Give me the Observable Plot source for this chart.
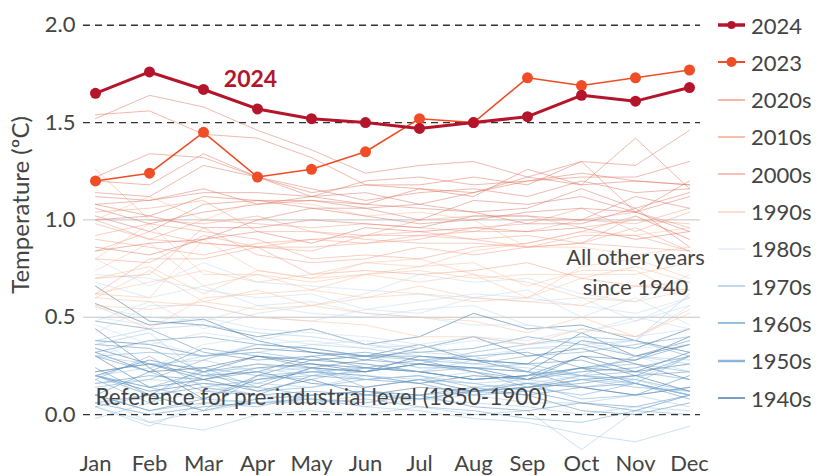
<!DOCTYPE html>
<html>
<head>
<meta charset="utf-8">
<script src="https://cdn.jsdelivr.net/npm/d3@7"></script>
<script src="https://cdn.jsdelivr.net/npm/@observablehq/plot@0.6"></script>
<style>
  html, body { margin: 0; padding: 0; background: #fff; }
  #wrap { position: relative; width: 818px; height: 476px; font-family: Lato, "Noto Sans", sans-serif; }
  #legend { position: absolute; left: 718px; top: 0; }
  .item { position: absolute; left: 0; display: flex; align-items: center; height: 24px; white-space: nowrap; }
  .item svg { display: block; }
  .item span { font-size: 22px; color: #444; margin-left: 5px; font-weight: 400; }
</style>
</head>
<body>
<div id="wrap"><div id="legend"></div></div>
<script>
const months = ["Jan","Feb","Mar","Apr","May","Jun","Jul","Aug","Sep","Oct","Nov","Dec"];

const y2024 = [1.65,1.76,1.67,1.57,1.52,1.50,1.47,1.50,1.53,1.64,1.61,1.68];
const y2023 = [1.20,1.24,1.45,1.22,1.26,1.35,1.52,1.50,1.73,1.69,1.73,1.77];

const d1940s = [
  [0.20,0.28,0.22,0.30,0.26,0.24,0.22,0.18,0.20,0.30,0.28,0.40],
  [0.38,0.36,0.30,0.34,0.32,0.30,0.36,0.28,0.26,0.42,0.30,0.36],
  [0.32,0.22,0.24,0.30,0.28,0.26,0.22,0.18,0.20,0.24,0.22,0.32],
  [0.22,0.26,0.18,0.24,0.26,0.22,0.30,0.28,0.22,0.38,0.34,0.44],
  [0.66,0.48,0.46,0.40,0.44,0.36,0.40,0.52,0.44,0.46,0.38,0.32],
  [0.57,0.46,0.49,0.38,0.32,0.28,0.34,0.40,0.30,0.34,0.26,0.18],
  [0.34,0.26,0.20,0.22,0.16,0.14,0.18,0.12,0.14,0.18,0.20,0.12],
  [0.20,0.12,0.16,0.14,0.24,0.22,0.26,0.24,0.18,0.30,0.22,0.26],
  [0.44,0.24,0.08,0.18,0.22,0.20,0.16,0.20,0.18,0.24,0.16,0.10],
  [0.30,0.14,0.18,0.12,0.18,0.10,0.14,0.12,0.16,0.14,0.10,0.14]
];
const d1950s = [
  [0.06,0.10,0.14,0.10,0.20,0.18,0.16,0.10,0.12,0.06,0.02,0.10],
  [0.10,0.02,0.08,0.20,0.28,0.30,0.32,0.34,0.40,0.36,0.30,0.38],
  [0.36,0.34,0.22,0.26,0.24,0.22,0.26,0.24,0.22,0.14,0.10,0.20],
  [0.32,0.38,0.40,0.36,0.34,0.30,0.30,0.28,0.26,0.28,0.20,0.30],
  [0.10,0.22,0.12,0.10,0.12,0.10,0.08,0.12,0.10,0.14,0.16,0.08],
  [0.24,0.10,0.02,0.08,0.10,0.12,0.10,0.14,0.10,0.02,0.00,0.06],
  [0.06,0.00,0.04,0.06,0.08,0.06,0.10,0.04,0.02,0.06,0.04,0.10],
  [0.16,0.20,0.18,0.22,0.30,0.32,0.28,0.30,0.32,0.24,0.28,0.36],
  [0.48,0.44,0.32,0.28,0.30,0.24,0.28,0.22,0.18,0.22,0.24,0.30],
  [0.30,0.22,0.34,0.30,0.24,0.28,0.26,0.22,0.14,0.16,0.20,0.22]
];
const d1960s = [
  [0.20,0.10,0.02,0.20,0.22,0.24,0.22,0.24,0.26,0.20,0.16,0.30],
  [0.30,0.32,0.30,0.32,0.28,0.30,0.24,0.24,0.22,0.20,0.22,0.18],
  [0.22,0.26,0.24,0.20,0.18,0.24,0.22,0.18,0.20,0.24,0.26,0.22],
  [0.18,0.30,0.14,0.18,0.20,0.22,0.26,0.32,0.36,0.40,0.38,0.30],
  [0.20,0.14,0.08,0.06,0.06,0.08,0.04,0.02,-0.02,-0.04,0.02,0.00],
  [0.10,0.02,0.06,0.04,0.10,0.12,0.08,0.12,0.14,0.10,0.16,0.10],
  [0.20,0.14,0.22,0.12,0.14,0.18,0.20,0.14,0.16,0.08,0.10,0.14],
  [0.18,0.06,0.20,0.16,0.24,0.14,0.18,0.16,0.12,0.18,0.14,0.12],
  [0.04,0.10,0.24,0.14,0.10,0.12,0.10,0.12,0.14,0.20,0.18,0.12],
  [0.14,0.18,0.28,0.36,0.34,0.30,0.28,0.26,0.30,0.32,0.36,0.40]
];
const d1970s = [
  [0.36,0.42,0.20,0.26,0.22,0.18,0.20,0.16,0.18,0.14,0.18,0.10],
  [0.10,-0.04,0.02,0.06,0.08,0.04,0.08,0.10,0.06,0.06,0.10,0.04],
  [-0.02,0.06,0.12,0.16,0.14,0.20,0.18,0.22,0.16,0.20,0.18,0.30],
  [0.38,0.44,0.46,0.42,0.40,0.36,0.32,0.30,0.22,0.18,0.16,0.10],
  [0.04,-0.06,0.06,0.08,0.06,0.10,0.08,0.06,0.04,0.00,0.04,0.02],
  [0.16,0.18,0.16,0.10,0.08,0.04,0.02,-0.02,-0.04,-0.10,-0.14,-0.06],
  [0.04,-0.04,-0.08,0.00,0.02,0.00,0.04,0.00,0.02,-0.18,0.02,0.10],
  [0.20,0.24,0.30,0.32,0.36,0.34,0.30,0.26,0.24,0.20,0.30,0.28],
  [0.30,0.26,0.28,0.22,0.24,0.18,0.20,0.10,0.20,0.22,0.30,0.26],
  [0.20,0.10,0.22,0.24,0.20,0.26,0.22,0.28,0.34,0.36,0.38,0.62]
];
const d1980s = [
  [0.55,0.50,0.48,0.56,0.58,0.52,0.50,0.46,0.46,0.42,0.50,0.44],
  [0.68,0.60,0.66,0.56,0.52,0.50,0.54,0.56,0.46,0.42,0.48,0.60],
  [0.30,0.38,0.30,0.36,0.38,0.34,0.36,0.30,0.34,0.34,0.38,0.56],
  [0.72,0.70,0.64,0.60,0.62,0.54,0.52,0.60,0.64,0.50,0.60,0.46],
  [0.46,0.36,0.42,0.38,0.44,0.36,0.34,0.38,0.36,0.38,0.30,0.22],
  [0.38,0.24,0.36,0.40,0.36,0.38,0.34,0.40,0.36,0.40,0.34,0.36],
  [0.50,0.46,0.50,0.44,0.42,0.40,0.36,0.40,0.38,0.44,0.40,0.44],
  [0.48,0.58,0.44,0.52,0.56,0.62,0.72,0.68,0.70,0.62,0.58,0.72],
  [0.80,0.66,0.78,0.68,0.66,0.64,0.62,0.60,0.58,0.60,0.48,0.56],
  [0.42,0.56,0.56,0.50,0.48,0.54,0.58,0.62,0.60,0.56,0.52,0.60]
];
const d1990s = [
  [0.62,0.60,0.90,0.74,0.70,0.72,0.68,0.72,0.60,0.76,0.80,0.70],
  [0.70,0.76,0.62,0.74,0.70,0.78,0.80,0.72,0.68,0.60,0.58,0.64],
  [0.60,0.58,0.56,0.50,0.48,0.46,0.40,0.40,0.36,0.44,0.40,0.52],
  [0.56,0.54,0.58,0.54,0.56,0.52,0.50,0.48,0.42,0.50,0.40,0.54],
  [0.56,0.44,0.60,0.62,0.64,0.60,0.62,0.58,0.60,0.70,0.76,0.68],
  [0.80,0.98,0.72,0.72,0.64,0.72,0.76,0.78,0.66,0.74,0.74,0.60],
  [0.60,0.74,0.58,0.64,0.56,0.60,0.66,0.60,0.58,0.56,0.66,0.68],
  [0.62,0.68,0.74,0.68,0.72,0.78,0.76,0.84,0.88,0.94,0.92,0.96],
  [1.00,1.12,1.00,1.10,1.08,1.02,1.04,1.00,0.86,0.86,0.82,0.86],
  [0.74,0.88,0.66,0.72,0.68,0.72,0.74,0.70,0.72,0.72,0.72,0.78]
];
const d2000s = [
  [0.62,0.80,0.80,0.86,0.72,0.74,0.72,0.74,0.78,0.70,0.66,0.64],
  [0.80,0.78,0.92,0.86,0.86,0.88,0.92,0.90,0.86,0.88,1.02,0.90],
  [1.04,1.06,1.10,0.94,0.94,0.92,0.94,0.90,0.92,0.88,0.96,0.84],
  [1.00,0.90,0.88,0.86,0.90,0.88,0.90,0.96,0.98,1.06,0.94,1.04],
  [0.92,0.98,0.94,0.90,0.80,0.82,0.80,0.86,0.88,0.94,1.02,0.90],
  [0.98,0.90,1.00,0.98,0.96,0.98,0.96,0.94,1.00,1.00,1.04,0.96],
  [0.84,0.94,0.88,0.86,0.84,0.92,0.92,0.94,0.94,1.00,0.98,1.06],
  [1.26,1.00,0.98,1.02,0.94,0.90,0.88,0.88,0.86,0.88,0.86,0.84],
  [0.70,0.72,0.96,0.82,0.78,0.80,0.86,0.82,0.86,0.92,0.92,0.84],
  [0.90,0.86,0.82,0.88,0.90,0.92,1.00,1.02,1.02,0.96,1.00,0.98]
];
const d2010s = [
  [1.08,1.10,1.14,1.14,1.12,1.08,1.06,1.04,0.98,0.98,1.06,0.86],
  [0.86,0.82,0.90,0.94,0.88,0.96,0.94,0.96,0.94,0.96,0.90,0.94],
  [0.84,0.88,0.90,1.00,1.06,1.02,0.98,1.00,1.04,1.06,1.04,0.94],
  [1.00,1.02,0.96,0.96,1.00,0.98,0.96,1.02,1.02,1.00,1.12,1.06],
  [1.06,0.98,1.04,1.08,1.10,1.06,1.00,1.10,1.08,1.12,1.04,1.12],
  [1.12,1.10,1.16,1.08,1.12,1.14,1.08,1.14,1.22,1.30,1.28,1.46],
  [1.52,1.64,1.58,1.46,1.36,1.24,1.28,1.30,1.22,1.18,1.20,1.18],
  [1.22,1.34,1.32,1.22,1.16,1.10,1.14,1.16,1.12,1.20,1.14,1.16],
  [1.02,0.94,1.08,1.10,1.06,1.06,1.08,1.04,1.06,1.16,1.06,1.14],
  [1.14,1.12,1.28,1.22,1.12,1.20,1.22,1.18,1.20,1.22,1.22,1.30]
];
const d2020s = [
  [1.54,1.56,1.44,1.42,1.32,1.18,1.16,1.12,1.26,1.18,1.42,1.16],
  [1.08,1.02,1.12,1.10,1.10,1.08,1.16,1.14,1.20,1.24,1.20,1.18],
  [1.20,1.18,1.34,1.22,1.14,1.18,1.18,1.22,1.18,1.30,1.04,1.20]
];

const decades = ["1940s","1950s","1960s","1970s","1980s","1990s","2000s","2010s","2020s"];
const decadeData = [d1940s,d1950s,d1960s,d1970s,d1980s,d1990s,d2000s,d2010s,d2020s];
const decadeColors = ["#2c6496","#4f86b5","#6aa3d0","#9cc4e4","#c2d9ee","#fbbf9e","#f3a088","#d9786a","#e4735c"];
const legendColors = ["#4a7db0","#8db6d9","#73abd8","#a9cbe6","#e3ecf6","#fbd3c2","#f5ad9c","#f8a88f","#f6a08a"];
const color2024 = "#b5152b";
const color2023 = "#ee4d26";

// build long table
const others = [];
decadeData.forEach((rows, di) => {
  rows.forEach((vals, yi) => {
    const year = 1940 + di * 10 + yi;
    vals.forEach((v, mi) => others.push({year, decade: decades[di], month: months[mi], value: v}));
  });
});
const hi2024 = y2024.map((v, i) => ({month: months[i], value: v}));
const hi2023 = y2023.map((v, i) => ({month: months[i], value: v}));

const plot = Plot.plot({
  width: 818,
  height: 476,
  marginLeft: 83,
  marginRight: 118,
  marginTop: 15,
  marginBottom: 23,
  style: {fontFamily: "Lato, 'Noto Sans', sans-serif", fontSize: "22px", fontWeight: 400, color: "#444", background: "#fff", overflow: "visible"},
  x: {type: "point", domain: months, padding: 0.156, label: null, tickSize: 0, tickPadding: 2},
  y: {domain: [-0.2, 2.05], ticks: [0, 0.5, 1.0, 1.5, 2.0], tickFormat: d => d.toFixed(1), tickSize: 0, tickPadding: 8, label: null},
  color: {domain: decades, range: decadeColors},
  marks: [
    Plot.ruleY([0.5, 1.0], {stroke: "#c4c4c4", strokeWidth: 1}),
    Plot.lineY(others, {x: "month", y: "value", z: "year", stroke: "decade", strokeWidth: 1, strokeOpacity: 0.5}),
    Plot.ruleY([0, 1.5, 2.0], {stroke: "#333", strokeWidth: 1.3, strokeDasharray: "7,5"}),
    Plot.lineY(hi2023, {x: "month", y: "value", stroke: color2023, strokeWidth: 1.6}),
    Plot.dot(hi2023, {x: "month", y: "value", fill: color2023, r: 5.5}),
    Plot.lineY(hi2024, {x: "month", y: "value", stroke: color2024, strokeWidth: 3}),
    Plot.dot(hi2024, {x: "month", y: "value", fill: color2024, r: 5.5}),
    Plot.text(["2024"], {x: () => "Apr", y: () => 1.72, dx: -7, fill: color2024, fontWeight: "bold", fontSize: 23}),
    Plot.text(["All other years\nsince 1940"], {x: () => "Nov", y: () => 0.74, fill: "#444", fontSize: 22, lineHeight: 1.36}),
    Plot.text(["Reference for pre-industrial level (1850-1900)"], {x: () => "Jan", y: () => 0.087, textAnchor: "start", fill: "#444", fontSize: 22.5})
  ]
});

const wrap = document.getElementById("wrap");
wrap.insertBefore(plot, wrap.firstChild);

// y-axis title
d3.select(plot).append("text")
  .attr("transform", "translate(29,205) rotate(-90)")
  .attr("text-anchor", "middle")
  .attr("fill", "#444")
  .style("font-size", "24px")
  .style("font-weight", 400)
  .text("Temperature (ºC)");

// legend
const legend = document.getElementById("legend");
const entries = [
  {label: "2024", color: color2024, width: 3.5, dot: 4},
  {label: "2023", color: color2023, width: 2, dot: 5}
].concat(decades.slice().reverse().map((d, i) => ({label: d, color: legendColors[decades.length - 1 - i], width: (d === "1950s") ? 2.5 : 1.5, dot: 0})));
entries.forEach((e, i) => {
  const div = document.createElement("div");
  div.className = "item";
  div.style.top = (13 + i * 37.3) + "px";
  const s = d3.create("svg").attr("width", 28).attr("height", 24);
  s.append("line").attr("x1", 0).attr("x2", 27).attr("y1", 12).attr("y2", 12).attr("stroke", e.color).attr("stroke-width", e.width);
  if (e.dot) s.append("circle").attr("cx", 13.5).attr("cy", 12).attr("r", e.dot).attr("fill", e.color);
  div.appendChild(s.node());
  const sp = document.createElement("span");
  sp.textContent = e.label;
  div.appendChild(sp);
  legend.appendChild(div);
});
</script>
</body>
</html>
